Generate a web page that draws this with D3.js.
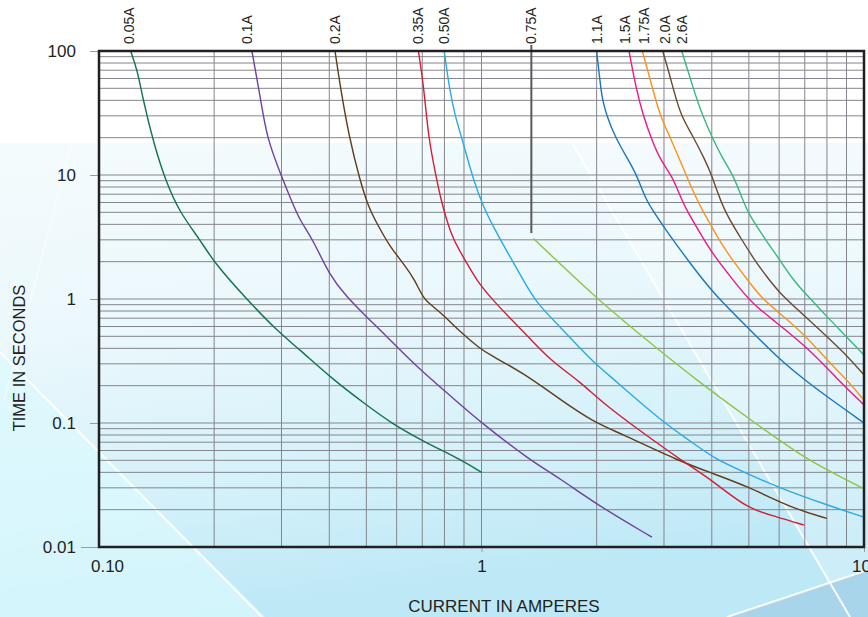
<!DOCTYPE html>
<html>
<head>
<meta charset="utf-8">
<script src="https://cdn.jsdelivr.net/npm/d3@7/dist/d3.min.js"></script>
<style>
  html, body { margin: 0; padding: 0; background: #ffffff; }
  svg text { font-family: "Liberation Sans", Arial, sans-serif; fill: #231f20; }
</style>
</head>
<body>
<svg id="chart" width="868" height="617"></svg>
<script>
// tick values and labels
var XTickValues = [0.1, 1, 10];
var XTickLabels = ["0.10", "1", "10"];
var YTickValues = [100, 10, 1, 0.1, 0.01];
var YTickLabels = ["100", "10", "1", "0.1", "0.01"];

var FuseRatings = ["0.05A", "0.1A", "0.2A", "0.35A", "0.50A", "0.75A", "1.1A", "1.5A", "1.75A", "2.0A", "2.6A"];

// [current in A, time in s]
var Curve005A = [[0.121,100],[0.126,70],[0.1305,40],[0.139,18],[0.149,9.1],[0.163,4.9],[0.184,3.0],[0.199,2.0],[0.243,1.0],[0.291,0.56],[0.332,0.40],[0.41,0.222],[0.50,0.14],[0.58,0.10],[0.705,0.071],[0.89,0.050],[1.0,0.040]];
var Curve01A = [[0.251,100],[0.265,40],[0.2745,20],[0.299,10],[0.318,6.3],[0.335,4.3],[0.363,3.0],[0.40,1.56],[0.444,1.04],[0.50,0.72],[0.565,0.50],[0.677,0.284],[0.844,0.158],[1.0,0.10],[1.34,0.050],[1.6,0.036],[2.0,0.022],[2.79,0.012]];
var Curve02A = [[0.414,100],[0.428,50],[0.451,20],[0.481,9.1],[0.506,5.55],[0.532,4.1],[0.576,2.64],[0.625,1.94],[0.67,1.42],[0.705,1.0],[0.748,0.87],[0.803,0.72],[0.888,0.53],[0.99,0.40],[1.053,0.353],[1.29,0.252],[1.59,0.158],[1.96,0.102],[2.3,0.083],[3.3,0.049],[4.04,0.039],[4.94,0.031],[6.5,0.0205],[8.0,0.017]];
var Curve035A = [[0.684,100],[0.7075,50],[0.726,20],[0.764,9.1],[0.784,6.3],[0.811,4.3],[0.844,3.0],[0.906,2.06],[0.97,1.42],[1.053,1.04],[1.164,0.743],[1.326,0.497],[1.51,0.322],[1.81,0.2155],[2.08,0.144],[2.65,0.0826],[3.37,0.0487],[4.0,0.0347],[4.98,0.0201],[5.91,0.0176],[6.98,0.0150]];
var Curve050A = [[0.799,100],[0.824,50],[0.8525,30],[0.888,20],[0.952,9.1],[1.011,5.55],[1.085,3.6],[1.187,2.19],[1.286,1.42],[1.394,0.923],[1.604,0.598],[1.81,0.40],[2.0,0.2935],[2.23,0.222],[2.93,0.1057],[3.58,0.0686],[4.12,0.0503],[4.94,0.0393],[5.91,0.0306],[8.0,0.0218],[10,0.0174]];
var Curve075A = [[1.366,3.08],[1.6,1.94],[2.0,1.01],[2.87,0.40],[3.65,0.222],[5.04,0.106],[7.08,0.051],[8.0,0.042],[10,0.0295]];
var Curve11A = [[2.0,100],[2.05,50],[2.074,40],[2.125,30],[2.234,20.3],[2.42,13.2],[2.546,10],[2.69,6.3],[2.84,4.9],[2.99,3.83],[3.51,1.94],[4.04,1.11],[4.94,0.598],[6.03,0.322],[7.01,0.222],[8.0,0.163],[10,0.10]];
var Curve15A = [[2.43,100],[2.535,50],[2.648,30],[2.77,20.3],[2.93,13.2],[3.144,10],[3.338,6.3],[3.44,5.2],[3.73,3.39],[4.04,2.26],[4.55,1.42],[5.09,0.923],[5.79,0.677],[7.08,0.412],[8.57,0.222],[10,0.14]];
var Curve175A = [[2.633,100],[2.80,50],[2.93,30],[3.11,20.3],[3.30,13.2],[3.47,9.1],[3.73,5.55],[4.0,3.83],[4.33,2.48],[4.89,1.51],[5.40,1.01],[6.03,0.767],[7.08,0.497],[8.0,0.322],[9.03,0.222],[10,0.153]];
var Curve20A = [[2.976,100],[3.08,70],[3.17,50],[3.32,30],[3.58,20.3],[3.84,13.2],[4.0,10],[4.29,5.22],[4.74,3.18],[5.135,2.13],[5.57,1.51],[6.03,1.11],[6.8,0.79],[7.83,0.529],[8.83,0.376],[10,0.244]];
var Curve26A = [[3.338,100],[3.58,50],[3.665,40],[3.79,30],[4.0,20.3],[4.29,13.2],[4.55,10],[4.82,6.3],[4.98,4.9],[5.57,2.9],[6.03,2.06],[6.53,1.42],[7.08,1.08],[8.0,0.72],[9.0,0.497],[10,0.353]];

var AllCurves = [Curve005A, Curve01A, Curve02A, Curve035A, Curve050A, Curve075A, Curve11A, Curve15A, Curve175A, Curve20A, Curve26A];

// the 0.75A curve is tagged by a leader line: [current, lowest time]
var Leader075A = [1.35, 3.4];

var FuseColors = ["#13734a", "#7040a0", "#603d1a", "#cc2035", "#29abe2", "#8cc63f", "#1c75bc", "#e8198b", "#f7941d", "#6b4a2e", "#3ab87a"];

var svg = d3.select("#chart");
var PlotLeft = 99, PlotRight = 864, PlotTop = 51, PlotBottom = 547;

var x = d3.scaleLog().domain([0.1, 10]).range([PlotLeft, PlotRight]);
var y = d3.scaleLog().domain([0.01, 100]).range([PlotBottom, PlotTop]);

DrawBackground();
DrawGrid();
DrawCurves();
DrawAxes();
DrawLabels();

function DrawBackground() {
    var defs = svg.append("defs");
    var grad = defs.append("linearGradient").attr("id", "bgGrad")
        .attr("x1", 0).attr("y1", 0).attr("x2", 0.25).attr("y2", 1);
    grad.append("stop").attr("offset", "0%").attr("stop-color", "#f4fbfd");
    grad.append("stop").attr("offset", "40%").attr("stop-color", "#ebf8fc");
    grad.append("stop").attr("offset", "75%").attr("stop-color", "#d4f1fa");
    grad.append("stop").attr("offset", "100%").attr("stop-color", "#bde8f6");

    svg.append("rect").attr("x", 0).attr("y", 0).attr("width", 868).attr("height", 617).attr("fill", "#ffffff");
    svg.append("rect").attr("x", 0).attr("y", 143).attr("width", 868).attr("height", 474).attr("fill", "url(#bgGrad)");

    // lighter cyan corner bottom left
    svg.append("path").attr("d", "M0,352L265,617L0,617Z").attr("fill", "#dbf9fe").attr("opacity", 0.7);
    // lighter band right of the long streak
    svg.append("path").attr("d", "M572,143L868,143L868,617L850,617Z").attr("fill", "#ffffff").attr("opacity", 0.25);
    // darker corner bottom right
    svg.append("path").attr("d", "M727,617L868,570L868,617Z").attr("fill", "#a9d5ea");

    var streaks = [[572,143,850,617,0.9,2], [-5,347,262,617,0.95,2], [727,617,868,570,0.9,2], [72,143,4,400,0.45,1.5]];
    svg.selectAll(".streak").data(streaks).enter().append("line")
        .attr("class", "streak")
        .attr("x1", function(d){ return d[0]; }).attr("y1", function(d){ return d[1]; })
        .attr("x2", function(d){ return d[2]; }).attr("y2", function(d){ return d[3]; })
        .attr("stroke", "#ffffff")
        .attr("stroke-opacity", function(d){ return d[4]; })
        .attr("stroke-width", function(d){ return d[5]; });
}

function DrawGrid() {
    var g = svg.append("g").attr("class", "grid");
    g.selectAll(".vgrid").data(x.ticks()).enter().append("line")
        .attr("class", "vgrid")
        .attr("x1", function(d){ return x(d); }).attr("x2", function(d){ return x(d); })
        .attr("y1", PlotTop).attr("y2", PlotBottom)
        .attr("stroke", "#85858d").attr("stroke-width", 1);
    g.selectAll(".hgrid").data(y.ticks()).enter().append("line")
        .attr("class", "hgrid")
        .attr("x1", PlotLeft).attr("x2", PlotRight)
        .attr("y1", function(d){ return y(d); }).attr("y2", function(d){ return y(d); })
        .attr("stroke", "#85858d").attr("stroke-width", 1);
}

function DrawCurves() {
    // points are read by eye, so a b-spline evens out the small reading errors
    var line = d3.line()
        .x(function(d){ return x(d[0]); })
        .y(function(d){ return y(d[1]); })
        .curve(d3.curveBasis);

    svg.append("g").selectAll(".fuseCurve").data(AllCurves).enter().append("path")
        .attr("class", "fuseCurve")
        .attr("d", line)
        .attr("fill", "none")
        .attr("stroke", function(d, i){ return FuseColors[i]; })
        .attr("stroke-width", 1.4);

    // leader line for 0.75A
    svg.append("line")
        .attr("x1", x(Leader075A[0])).attr("x2", x(Leader075A[0]))
        .attr("y1", PlotTop - 6).attr("y2", y(Leader075A[1]))
        .attr("stroke", "#58595b").attr("stroke-width", 2);
}

function DrawAxes() {
    var yAxis = d3.axisLeft(y)
        .tickValues(YTickValues)
        .tickSize(9)
        .tickPadding(15)
        .tickFormat(function(d, i){ return YTickLabels[i]; });
    var gy = svg.append("g").attr("transform", "translate(" + PlotLeft + ",0)").call(yAxis);
    gy.select(".domain").remove();
    gy.selectAll("line").attr("stroke", "#9a9aa0");
    gy.selectAll("line").filter(function(d){ return d == 0.01; }).attr("x2", -18);
    gy.selectAll("text").style("font-size", "17px").attr("dx", "0.05em");

    var xAxis = d3.axisBottom(x)
        .tickValues(XTickValues)
        .tickSize(5)
        .tickPadding(8)
        .tickFormat(function(d, i){ return XTickLabels[i]; });
    var gx = svg.append("g").attr("transform", "translate(0," + PlotBottom + ")").call(xAxis);
    gx.select(".domain").remove();
    gx.selectAll("line").attr("stroke", "#9a9aa0");
    gx.selectAll("line").filter(function(d){ return d == 0.1; }).remove();
    gx.selectAll("text").style("font-size", "17px");
    gx.selectAll("text").filter(function(d){ return d == 0.1; }).attr("dx", 8);
    gx.selectAll("text").filter(function(d){ return d == 10; }).attr("dx", -3);

    // frame
    svg.append("rect")
        .attr("x", PlotLeft).attr("y", PlotTop)
        .attr("width", PlotRight - PlotLeft).attr("height", PlotBottom - PlotTop)
        .attr("fill", "none").attr("stroke", "#231f20").attr("stroke-width", 2.5);
}

function LabelNudge(label) {
    // small sideways shifts so the crowded labels keep apart
    switch (label) {
        case "0.05A": return -2;
        case "0.1A": return -5;
        case "1.5A": return -4;
        case "1.75A": return 1.5;
        case "2.0A": return 2.5;
        default: return 0;
    }
}

function DrawLabels() {
    svg.selectAll(".fuseLabel").data(FuseRatings).enter().append("text")
        .attr("class", "fuseLabel")
        .attr("transform", function(d, i){
            var cx = (d == "0.75A") ? x(Leader075A[0]) : x(AllCurves[i][0][0]);
            cx = cx + LabelNudge(d);
            return "translate(" + (cx + 5) + ",44) rotate(-90)";
        })
        .style("font-size", "14px")
        .text(function(d){ return d; });

    svg.append("text")
        .attr("transform", "translate(25,358) rotate(-90)")
        .attr("text-anchor", "middle")
        .style("font-size", "16.5px")
        .text("TIME IN SECONDS");

    svg.append("text")
        .attr("x", 504).attr("y", 612)
        .attr("text-anchor", "middle")
        .style("font-size", "17px")
        .text("CURRENT IN AMPERES");
}
</script>
</body>
</html>
